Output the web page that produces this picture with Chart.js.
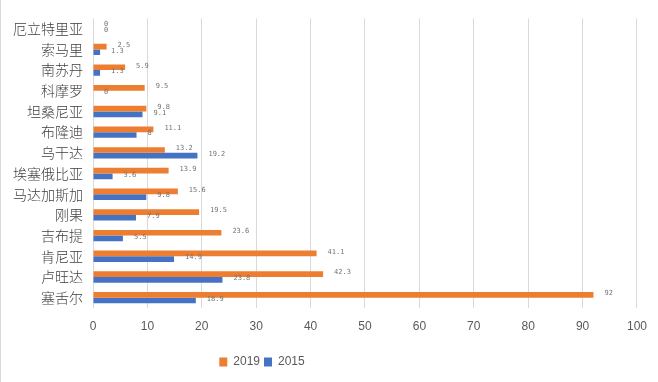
<!DOCTYPE html>
<html>
<head>
<meta charset="utf-8">
<script src="https://cdn.jsdelivr.net/npm/chart.js@4"></script>
<style>
  html, body { margin: 0; padding: 0; background: #ffffff; }
  #wrap { width: 658px; height: 382px; position: relative; }
</style>
</head>
<body>
<div id="wrap"><canvas id="c" width="658" height="382"></canvas></div>
<script>
const categories = ['厄立特里亚','索马里','南苏丹','科摩罗','坦桑尼亚','布隆迪','乌干达','埃塞俄比亚','马达加斯加','刚果','吉布提','肯尼亚','卢旺达','塞舌尔'];
const values2019 = [0, 2.5, 5.9, 9.5, 9.8, 11.1, 13.2, 13.9, 15.6, 19.5, 23.6, 41.1, 42.3, 92];
const values2015 = [0, 1.3, 1.3, 0, 9.1, 8, 19.2, 3.6, 9.8, 7.9, 5.5, 14.9, 23.8, 18.9];
const xTicks = [0, 10, 20, 30, 40, 50, 60, 70, 80, 90, 100];

const valueLabels = {
  id: 'valueLabels',
  afterDatasetsDraw(chart) {
    const ctx = chart.ctx;
    ctx.save();
    ctx.font = '7px "DejaVu Sans Mono"';
    ctx.fillStyle = '#737373';
    ctx.textBaseline = 'middle';
    ctx.textAlign = 'left';
    chart.data.datasets.forEach((ds, i) => {
      const meta = chart.getDatasetMeta(i);
      meta.data.forEach((bar, j) => {
        ctx.fillText(String(ds.data[j]), bar.x + 11, bar.y - 1.5);
      });
    });
    ctx.restore();
  }
};

const frame = {
  id: 'frame',
  afterLayout(chart) {
    const lg = chart.legend;
    if (lg) { lg.left = 0; lg.right = 524; }
  },
  afterDraw(chart) {
    const ctx = chart.ctx;
    ctx.save();
    ctx.strokeStyle = '#d9d9d9';
    ctx.lineWidth = 1;
    ctx.beginPath();
    ctx.moveTo(0.5, 0);
    ctx.lineTo(0.5, 382);
    ctx.stroke();
    ctx.restore();
  }
};

new Chart(document.getElementById('c'), {
  type: 'bar',
  data: {
    labels: categories,
    datasets: [
      { label: '2019', data: values2019, backgroundColor: '#ED7D31', barPercentage: 1, categoryPercentage: 0.55 },
      { label: '2015', data: values2015, backgroundColor: '#4472C4', barPercentage: 1, categoryPercentage: 0.55 }
    ]
  },
  options: {
    indexAxis: 'y',
    responsive: false,
    animation: false,
    devicePixelRatio: 1,
    layout: { padding: { top: 14, right: 3, bottom: 4, left: 0 } },
    scales: {
      x: {
        min: 0, max: 100,
        afterBuildTicks(scale) { scale.ticks = xTicks.map(v => ({ value: v })); },
        afterFit(scale) { scale.height = 44; },
        grid: { color: '#d9d9d9', drawTicks: false, lineWidth: 1 },
        border: { display: false },
        ticks: { padding: 11, color: '#595959', font: { family: '"Liberation Sans", sans-serif', size: 12 } }
      },
      y: {
        afterFit(scale) { scale.width = 93; },
        grid: { display: false, drawTicks: false },
        border: { display: false },
        ticks: { padding: 10, color: '#404040', font: { family: '"Noto Sans CJK SC", sans-serif', size: 14, weight: '300' } }
      }
    },
    plugins: {
      legend: {
        position: 'bottom',
        labels: {
          boxWidth: 8, boxHeight: 9, padding: 4,
          color: '#595959',
          font: { family: '"Liberation Sans", sans-serif', size: 12 }
        }
      },
      tooltip: { enabled: false }
    }
  },
  plugins: [valueLabels, frame]
});
</script>
</body>
</html>
